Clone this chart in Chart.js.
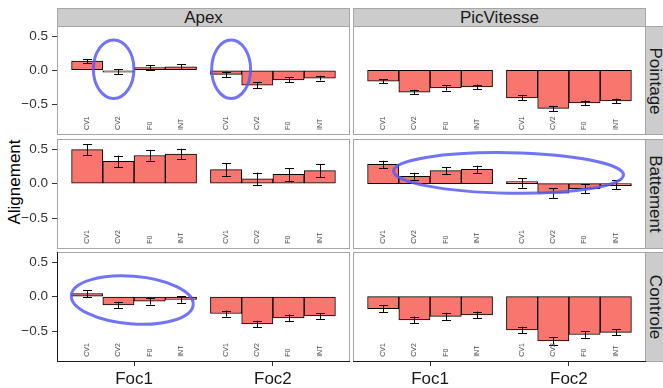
<!DOCTYPE html>
<html><head><meta charset="utf-8">
<script src="https://cdn.jsdelivr.net/npm/chart.js@4.4.1/dist/chart.umd.min.js"></script>
<style>
html,body{margin:0;padding:0;background:#fff;}
body{width:663px;height:388px;position:relative;overflow:hidden;font-family:'Liberation Sans',Arial,Helvetica,sans-serif;}
.strip{position:absolute;box-sizing:border-box;background:#cccccc;border:1px solid #a6a6a6;color:#1a1a1a;font-size:17px;}
.strip span{position:absolute;left:50%;top:50%;white-space:nowrap;line-height:17px;}
.top span{transform:translate(-50%,-50%);margin-top:-1px;}
.right span{transform:translate(-50%,-50%) rotate(90deg);}
canvas{position:absolute;}
#ytitle{position:absolute;left:13.5px;top:182px;transform:translate(-50%,-50%) rotate(-90deg);font-size:17px;line-height:17px;white-space:nowrap;color:#000;}
</style></head>
<body>
<div id="ytitle">Alignement</div>
<script>
// ---------- data ----------
const measures = ['Apex', 'PicVitesse'];
const conditions = ['Pointage', 'Battement', 'Controle'];
const focLabels = ['Foc1', 'Foc2'];
const paramLabels = ['CV1', 'CV2', 'F0', 'INT'];
const yTickValues = [-0.5, 0, 0.5];

// each array: Foc1 (CV1, CV2, F0, INT), then Foc2 (CV1, CV2, F0, INT)
const apexPointageMean = [0.135, -0.02, 0.04, 0.05, -0.06, -0.22, -0.14, -0.115];
const apexPointageSE   = [0.03, 0.035, 0.035, 0.037, 0.04, 0.045, 0.035, 0.035];
const picPointageMean  = [-0.16, -0.32, -0.26, -0.245, -0.405, -0.56, -0.48, -0.45];
const picPointageSE    = [0.03, 0.035, 0.037, 0.035, 0.037, 0.035, 0.035, 0.033];

const apexBattementMean = [0.495, 0.325, 0.41, 0.43, 0.205, 0.07, 0.135, 0.19];
const apexBattementSE   = [0.078, 0.083, 0.074, 0.078, 0.093, 0.09, 0.093, 0.098];
const picBattementMean  = [0.28, 0.108, 0.19, 0.21, 0.01, -0.137, -0.074, -0.012];
const picBattementSE    = [0.054, 0.049, 0.052, 0.052, 0.069, 0.069, 0.064, 0.066];

const apexControleMean = [0.045, -0.118, -0.064, -0.039, -0.245, -0.397, -0.309, -0.28];
const apexControleSE   = [0.049, 0.044, 0.051, 0.049, 0.044, 0.047, 0.049, 0.042];
const picControleMean  = [-0.176, -0.338, -0.287, -0.265, -0.485, -0.642, -0.55, -0.52];
const picControleSE    = [0.049, 0.049, 0.054, 0.049, 0.049, 0.054, 0.047, 0.044];

// hand-drawn highlight ellipses (data units of the panel they sit in)
const highlightEllipses = [
  {row: 0, col: 0, x: 0.853, y: 0.016, rx: 0.146, ry: 0.43, deg: 0},
  {row: 0, col: 0, x: 1.699, y: 0.016, rx: 0.140, ry: 0.43, deg: 0},
  {row: 1, col: 1, x: 1.565, y: 0.156, rx: 0.828, ry: 0.295, deg: 1},
  {row: 2, col: 0, x: 0.987, y: -0.049, rx: 0.44, ry: 0.346, deg: 4.5}
];

const panelMeans = [[apexPointageMean, picPointageMean], [apexBattementMean, picBattementMean], [apexControleMean, picControleMean]];
const panelSE = [[apexPointageSE, picPointageSE], [apexBattementSE, picBattementSE], [apexControleSE, picControleSE]];

// ---------- layout ----------
const FONT = "'Liberation Sans', Arial, Helvetica, sans-serif";
const colLeft = [57, 353], panelW = 293;
const rowTop = [26, 139, 252], rowH = [109, 110, 110];
const yAxisW = 57, xAxisH = 26;
const dodge = 0.225;
const yMin = -0.95, yMax = 0.65, xMin = 0.445, xMax = 2.555;
const labelY = -0.875;

// strips
measures.forEach((m, c) => {
  const d = document.createElement('div');
  d.className = 'strip top';
  d.style.left = colLeft[c] + 'px'; d.style.top = '8px';
  d.style.width = panelW + 'px'; d.style.height = '19px';
  d.innerHTML = '<span>' + m + '</span>';
  document.body.appendChild(d);
});
conditions.forEach((cn, r) => {
  const d = document.createElement('div');
  d.className = 'strip right';
  d.style.left = '645px'; d.style.top = rowTop[r] + 'px';
  d.style.width = '19px'; d.style.height = rowH[r] + 'px';
  d.innerHTML = '<span>' + cn + '</span>';
  document.body.appendChild(d);
});

for (let r = 0; r < 3; r++) {
  for (let c = 0; c < 2; c++) {
    const hasY = c === 0, hasX = r === 2;
    const cv = document.createElement('canvas');
    const w = panelW + (hasY ? yAxisW : 0);
    const h = rowH[r] + (hasX ? xAxisH : 0);
    cv.width = w; cv.height = h;
    cv.style.left = (hasY ? colLeft[c] - yAxisW : colLeft[c]) + 'px';
    cv.style.top = rowTop[r] + 'px';
    cv.style.width = w + 'px'; cv.style.height = h + 'px';
    document.body.appendChild(cv);

    const means = panelMeans[r][c], ses = panelSE[r][c];
    const pts = means.map((m, i) => ({x: Math.floor(i / 4) + 1 + ((i % 4) - 1.5) * dodge, y: m}));
    const ells = highlightEllipses.filter(e => e.row === r && e.col === c);

    const decor = {
      id: 'decor' + r + c,
      afterDatasetsDraw(chart) {
        const ctx = chart.ctx, xs = chart.scales.x, ys = chart.scales.y;
        ctx.save();
        // error bars
        ctx.strokeStyle = '#000'; ctx.lineWidth = 1;
        pts.forEach((p, i) => {
          const px = Math.round(xs.getPixelForValue(p.x)) + 0.5;
          const t = ys.getPixelForValue(p.y + ses[i]);
          const b = ys.getPixelForValue(p.y - ses[i]);
          ctx.beginPath();
          ctx.moveTo(px, t); ctx.lineTo(px, b);
          ctx.moveTo(px - 4.5, Math.round(t) + 0.5); ctx.lineTo(px + 4.5, Math.round(t) + 0.5);
          ctx.moveTo(px - 4.5, Math.round(b) + 0.5); ctx.lineTo(px + 4.5, Math.round(b) + 0.5);
          ctx.stroke();
        });
        // small parameter labels
        ctx.fillStyle = '#4d4d4d';
        ctx.font = '7px ' + FONT;
        ctx.textAlign = 'left'; ctx.textBaseline = 'middle';
        pts.forEach((p, i) => {
          ctx.save();
          ctx.translate(xs.getPixelForValue(p.x), ys.getPixelForValue(labelY));
          ctx.rotate(-Math.PI / 2);
          ctx.fillText(paramLabels[i % 4], 0, 0);
          ctx.restore();
        });
        ctx.restore();
      },
      afterDraw(chart) {
        const ctx = chart.ctx, a = chart.chartArea, xs = chart.scales.x, ys = chart.scales.y;
        ctx.save();
        ctx.strokeStyle = '#a6a6a6'; ctx.lineWidth = 1;
        ctx.strokeRect(a.left + 0.5, a.top + 0.5, a.right - a.left - 1, a.bottom - a.top - 1);
        if (hasX) {
          ctx.strokeStyle = '#1a1a1a';
          ctx.beginPath();
          ctx.moveTo(a.left, a.bottom - 0.5); ctx.lineTo(a.right, a.bottom - 0.5);
          if (hasY) { ctx.moveTo(a.left + 0.5, a.top); ctx.lineTo(a.left + 0.5, a.bottom); }
          ctx.stroke();
        }
        // highlight ellipses
        ctx.strokeStyle = 'rgba(90,90,245,0.85)'; ctx.lineWidth = 3;
        ells.forEach(e => {
          const cx = xs.getPixelForValue(e.x), cy = ys.getPixelForValue(e.y);
          const rx = Math.abs(xs.getPixelForValue(e.x + e.rx) - cx);
          const ry = Math.abs(ys.getPixelForValue(e.y + e.ry) - cy);
          ctx.beginPath();
          ctx.ellipse(cx, cy, rx, ry, e.deg * Math.PI / 180, 0, Math.PI * 2);
          ctx.stroke();
        });
        ctx.restore();
      }
    };

    const zeroPad = s => { s.paddingTop = 0; s.paddingBottom = 0; s.paddingLeft = 0; s.paddingRight = 0; };

    new Chart(cv, {
      type: 'bar',
      data: {
        datasets: [{
          data: pts,
          backgroundColor: '#F8766D',
          borderColor: '#000',
          borderWidth: 1,
          borderSkipped: false,
          minBarLength: 2,
          barPercentage: 1,
          categoryPercentage: 1
        }]
      },
      options: {
        animation: false, responsive: false, maintainAspectRatio: false, devicePixelRatio: 1,
        layout: {padding: 0},
        events: [],
        plugins: {legend: {display: false}, tooltip: {enabled: false}, title: {display: false}},
        scales: {
          x: {
            type: 'linear', min: xMin, max: xMax, display: hasX, offset: false,
            afterBuildTicks: s => { s.ticks = focLabels.map((f, i) => ({value: i + 1})); },
            afterFit: s => { if (hasX) s.height = xAxisH; zeroPad(s); },
            ticks: {
              autoSkip: false, maxRotation: 0, minRotation: 0, padding: 3, color: '#1a1a1a',
              font: {size: 17, family: FONT},
              callback: v => focLabels[Math.round(v) - 1]
            },
            grid: {display: true, offset: false, drawOnChartArea: false, drawTicks: true, tickLength: 4, color: '#333', lineWidth: 1},
            border: {display: false}
          },
          y: {
            type: 'linear', min: yMin, max: yMax, display: hasY,
            afterBuildTicks: s => { s.ticks = yTickValues.map(v => ({value: v})); },
            afterFit: s => { if (hasY) s.width = yAxisW; zeroPad(s); },
            ticks: {
              autoSkip: false, padding: 4, color: '#333',
              font: {size: 13.5, family: FONT},
              callback: v => (v < 0 ? '\u2212' : '') + Math.abs(v).toFixed(1)
            },
            grid: {display: true, offset: false, drawOnChartArea: false, drawTicks: true, tickLength: 5, color: '#333', lineWidth: 1},
            border: {display: false}
          }
        }
      },
      plugins: [decor]
    });
  }
}
</script>
</body></html>
